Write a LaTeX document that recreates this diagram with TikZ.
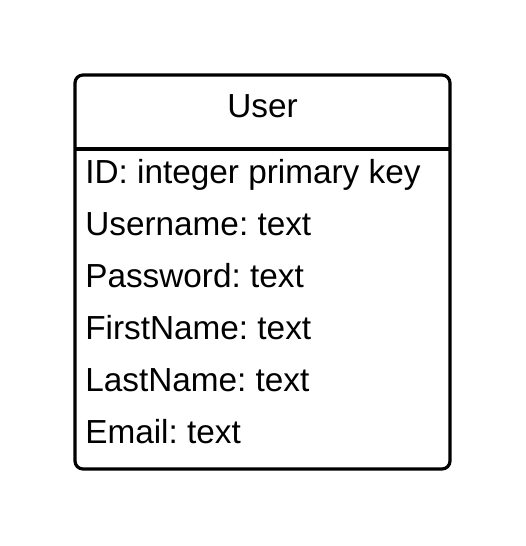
\documentclass[tikz,border=0pt]{standalone}
\usepackage{fontspec}
\setmainfont{Liberation Sans}
\usetikzlibrary{positioning}
\frenchspacing

\begin{document}
\begin{tikzpicture}[x=0.75pt, y=-0.75pt,
	entity/.style={draw, line width=2.4pt, rounded corners=6pt, minimum width=281.25pt, minimum height=295.5pt, inner sep=0pt},
	field/.style={anchor=base west, inner sep=0pt, font=\fontsize{25}{29}\selectfont}]
	\useasboundingbox (0, 0) rectangle (525, 546);
	\def\gap{52}

	\node[entity] (user) at (262.5, 272) {};
	\node[field, anchor=base] (title) at (262.5, 117) {User};

	\coordinate (hl) at (75, 149);
	\coordinate (hr) at (450, 149);
	\draw[line width=2.4pt] (hl) -- (hr);

	\foreach \i/\t in {0/{ID: integer primary key}, 1/{Username: text}, 2/{Password: text}, 3/{FirstName: text}, 4/{LastName: text}, 5/{Email: text}}{
		\node[field] (row\i) at (85, 183.5 + \i * \gap) {\t};
	}
\end{tikzpicture}
\end{document}
